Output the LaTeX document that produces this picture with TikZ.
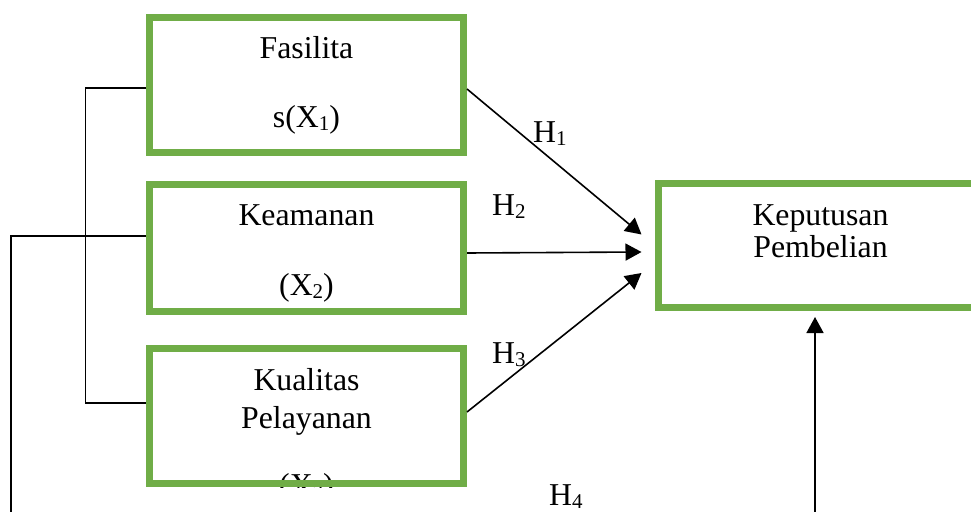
\documentclass[tikz,border=0pt]{standalone}
\usepackage{fontspec}
\setmainfont{Liberation Serif}
\usetikzlibrary{arrows.meta}
\definecolor{boxgreen}{HTML}{70AD47}
\newcommand{\subx}[1]{\raisebox{-3pt}{\fontsize{21}{21}\selectfont #1}}
\tikzset{
  vbox/.style={draw=boxgreen, line width=7pt, rectangle, inner sep=0pt},
  conn/.style={line width=1.6pt, black},
  arr/.style={conn, -{Triangle[length=16pt,width=17pt]}},
  lbl/.style={anchor=base, inner sep=0pt, font=\fontsize{31.8}{38}\selectfont},
  hlbl/.style={lbl, anchor=base west},
}
\begin{document}
\begin{tikzpicture}[x=1pt,y=-1pt]
\useasboundingbox (0,0) rectangle (971,511);
\clip (0,0) rectangle (971,511);
% texts
\node[lbl] (t1a) at (306.5,59) {Fasilita};
\node[lbl] (t1b) at (306.5,127) {s(X\subx{1})};
\node[lbl] (t2a) at (306.5,225) {Keamanan};
\node[lbl] (t2b) at (306.5,295) {(X\subx{2})};
\node[lbl] (t3a) at (306.5,390) {Kualitas};
\node[lbl] (t3b) at (306.5,428) {Pelayanan};
\begin{scope}
  \clip (146,345) rectangle (467,487);
  \node[lbl] (t3c) at (306.5,495) {(X\subx{3})};
\end{scope}
\node[lbl] (t4a) at (820.5,225) {Keputusan};
\node[lbl] (t4b) at (820.5,257) {Pembelian};
% boxes
\node[vbox, minimum width=314pt, minimum height=134pt] (b1) at (306.5,85) {};
\node[vbox, minimum width=314pt, minimum height=127pt] (b2) at (306.5,248) {};
\node[vbox, minimum width=314pt, minimum height=135pt] (b3) at (306.5,416) {};
\node[vbox, minimum width=342pt, minimum height=124pt] (b4) at (829,245.5) {};
% arrows
\draw[arr] ([yshift=-4pt]b1.east) -- ([xshift=-13pt,yshift=11pt]b4.west);
\draw[arr] ([yshift=-5pt]b2.east) -- ([xshift=-13pt,yshift=-6.5pt]b4.west);
\draw[arr] ([yshift=4pt]b3.east) -- ([xshift=-13pt,yshift=-27.5pt]b4.west);
\coordinate (vb) at (815,515);
\draw[arr] (vb) -- ([xshift=-14pt,yshift=-6pt]b4.south);
% left connectors
\draw[conn] ([yshift=-3pt]b1.west) -- ++(-60.5,0) |- ([yshift=13pt]b3.west);
\coordinate (lb) at (11,515);
\draw[conn] ([yshift=12pt]b2.west) -| (lb);
% H labels
\node[hlbl] (h1) at (533,142) {H\subx{1}};
\node[hlbl] (h2) at (492,215) {H\subx{2}};
\node[hlbl] (h3) at (492,363) {H\subx{3}};
\node[hlbl] (h4) at (549,505) {H\subx{4}};
\end{tikzpicture}
\end{document}
